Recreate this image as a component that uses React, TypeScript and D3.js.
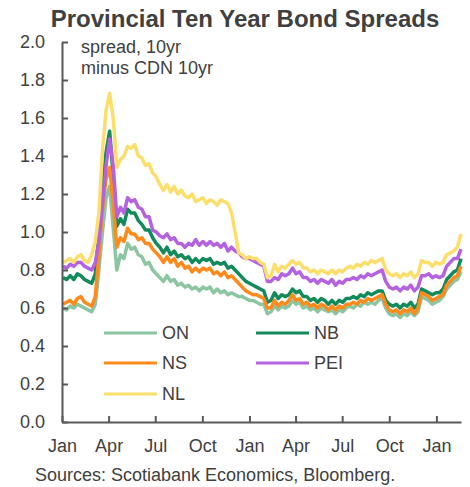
import React, { useEffect, useRef } from "react";
import * as d3 from "d3";

// Weekly observations (Fridays) from 2020-01-03 to 2022-02-18
const startDate = new Date(2020, 0, 3);
const endDate = new Date(2022, 1, 19);
const weekDates: Date[] = d3.timeFriday.range(startDate, endDate);

const seriesNames = ["ON", "NB", "NS", "PEI", "NL"];

const ON = [
  0.60, 0.59, 0.61, 0.60, 0.62, 0.61, 0.60, 0.59, 0.58, 0.62,
  0.80, 1.00, 1.18, 1.24, 1.02, 0.80, 0.88, 0.86, 0.94, 0.91,
  0.92, 0.88, 0.87, 0.83, 0.84, 0.80, 0.78, 0.76, 0.74, 0.77,
  0.74, 0.75, 0.72, 0.73, 0.71, 0.72, 0.70, 0.71, 0.69, 0.71,
  0.70, 0.71, 0.68, 0.70, 0.68, 0.69, 0.67, 0.68, 0.67, 0.66,
  0.66, 0.65, 0.64, 0.64, 0.63, 0.62, 0.62, 0.57, 0.58, 0.61,
  0.59, 0.61, 0.60, 0.61, 0.64, 0.62, 0.63, 0.60, 0.61, 0.59,
  0.60, 0.58, 0.60, 0.59, 0.58, 0.59, 0.57, 0.59, 0.58, 0.60,
  0.61, 0.60, 0.62, 0.61, 0.63, 0.62, 0.63, 0.62, 0.64, 0.65,
  0.60, 0.57, 0.56, 0.57, 0.55, 0.57, 0.56, 0.58, 0.56, 0.58,
  0.66, 0.65, 0.64, 0.62, 0.63, 0.64, 0.66, 0.70, 0.72, 0.74,
  0.75, 0.79,
];

const NB = [
  0.76, 0.75, 0.77, 0.75, 0.78, 0.77, 0.75, 0.74, 0.73, 0.78,
  0.98, 1.22, 1.42, 1.53, 1.30, 1.03, 1.07, 1.04, 1.12, 1.10,
  1.10, 1.06, 1.04, 1.01, 1.01, 0.97, 0.94, 0.92, 0.89, 0.92,
  0.88, 0.90, 0.87, 0.88, 0.86, 0.87, 0.84, 0.86, 0.84, 0.86,
  0.85, 0.86, 0.83, 0.84, 0.83, 0.84, 0.81, 0.82, 0.80, 0.78,
  0.76, 0.74, 0.73, 0.72, 0.71, 0.70, 0.69, 0.63, 0.64, 0.68,
  0.65, 0.67, 0.66, 0.67, 0.70, 0.68, 0.69, 0.66, 0.66, 0.64,
  0.65, 0.63, 0.65, 0.64, 0.62, 0.64, 0.62, 0.64, 0.63, 0.65,
  0.65, 0.66, 0.65, 0.67, 0.66, 0.68, 0.67, 0.68, 0.69, 0.69,
  0.64, 0.62, 0.61, 0.62, 0.60, 0.62, 0.61, 0.63, 0.60, 0.62,
  0.70, 0.69, 0.68, 0.67, 0.68, 0.68, 0.70, 0.75, 0.77, 0.79,
  0.80, 0.86,
];

const NS = [
  0.62, 0.63, 0.64, 0.62, 0.65, 0.66, 0.63, 0.62, 0.61, 0.66,
  0.88, 1.12, 1.28, 1.34, 1.15, 0.92, 0.97, 0.95, 1.02, 0.99,
  0.99, 0.96, 0.97, 0.94, 0.94, 0.91, 0.89, 0.87, 0.84, 0.87,
  0.84, 0.86, 0.82, 0.84, 0.81, 0.82, 0.79, 0.81, 0.79, 0.81,
  0.80, 0.81, 0.78, 0.79, 0.77, 0.79, 0.76, 0.77, 0.75, 0.73,
  0.71, 0.69, 0.68, 0.67, 0.67, 0.66, 0.65, 0.60, 0.60, 0.64,
  0.61, 0.63, 0.62, 0.64, 0.67, 0.64, 0.65, 0.62, 0.63, 0.61,
  0.62, 0.60, 0.62, 0.61, 0.59, 0.61, 0.59, 0.61, 0.60, 0.62,
  0.62, 0.63, 0.62, 0.64, 0.63, 0.65, 0.64, 0.65, 0.66, 0.67,
  0.62, 0.59, 0.58, 0.59, 0.57, 0.59, 0.58, 0.60, 0.57, 0.60,
  0.68, 0.67, 0.66, 0.64, 0.65, 0.66, 0.67, 0.72, 0.74, 0.76,
  0.77, 0.82,
];

const PEI = [
  0.82, 0.81, 0.83, 0.82, 0.84, 0.84, 0.82, 0.81, 0.80, 0.84,
  0.95, 1.15, 1.35, 1.49, 1.35, 1.08, 1.13, 1.10, 1.18, 1.16,
  1.17, 1.13, 1.12, 1.08, 1.08, 1.01, 1.00, 0.98, 0.97, 0.99,
  0.96, 0.97, 0.94, 0.94, 0.92, 0.94, 0.93, 0.96, 0.93, 0.95,
  0.93, 0.95, 0.93, 0.94, 0.92, 0.94, 0.90, 0.92, 0.90, 0.89,
  0.87, 0.86, 0.86, 0.85, 0.84, 0.83, 0.82, 0.74, 0.74, 0.76,
  0.75, 0.78, 0.77, 0.78, 0.81, 0.78, 0.79, 0.76, 0.76, 0.74,
  0.75, 0.73, 0.75, 0.74, 0.73, 0.75, 0.72, 0.74, 0.73, 0.75,
  0.75, 0.76, 0.75, 0.77, 0.76, 0.78, 0.77, 0.78, 0.79, 0.80,
  0.74, 0.71, 0.70, 0.71, 0.69, 0.71, 0.70, 0.72, 0.69, 0.71,
  0.77, 0.77, 0.78, 0.76, 0.77, 0.76, 0.77, 0.82, 0.84, 0.86,
  0.86, 0.91,
];

const NL = [
  0.84, 0.85, 0.86, 0.84, 0.87, 0.88, 0.85, 0.84, 0.88, 0.95,
  1.10, 1.43, 1.64, 1.73, 1.60, 1.34, 1.38, 1.40, 1.45, 1.44,
  1.46, 1.40, 1.39, 1.35, 1.36, 1.31, 1.29, 1.25, 1.22, 1.25,
  1.21, 1.24, 1.20, 1.22, 1.19, 1.18, 1.20, 1.16, 1.17, 1.18,
  1.15, 1.17, 1.16, 1.14, 1.17, 1.16, 1.15, 1.10, 1.00, 0.89,
  0.88, 0.86, 0.87, 0.86, 0.86, 0.84, 0.83, 0.76, 0.77, 0.83,
  0.79, 0.82, 0.81, 0.83, 0.85, 0.83, 0.84, 0.81, 0.81, 0.79,
  0.80, 0.78, 0.80, 0.79, 0.78, 0.80, 0.78, 0.80, 0.79, 0.81,
  0.82, 0.81, 0.83, 0.82, 0.84, 0.83, 0.85, 0.84, 0.85, 0.86,
  0.80, 0.78, 0.77, 0.78, 0.76, 0.78, 0.77, 0.79, 0.76, 0.78,
  0.85, 0.84, 0.84, 0.82, 0.84, 0.83, 0.84, 0.88, 0.89, 0.90,
  0.92, 0.99,
];

const seriesValues = [ON, NB, NS, PEI, NL];
const seriesColors = ["#8cc5a2", "#138a5c", "#ff8a1c", "#b462e0", "#fcde6b"];

const yTicks = [0, 0.2, 0.4, 0.6, 0.8, 1.0, 1.2, 1.4, 1.6, 1.8, 2.0];
const xTickDates = [
  new Date(2020, 0, 1), new Date(2020, 3, 1), new Date(2020, 6, 1), new Date(2020, 9, 1),
  new Date(2021, 0, 1), new Date(2021, 3, 1), new Date(2021, 6, 1), new Date(2021, 9, 1),
  new Date(2022, 0, 1),
];
const monthLabels = ["Jan", "Apr", "Jul", "Oct"];

const titleText = "Provincial Ten Year Bond Spreads";
const noteLines = ["spread, 10yr", "minus CDN 10yr"];
const sourceText = "Sources: Scotiabank Economics, Bloomberg.";

const W = 470;
const H = 487;
const FONT = "'Liberation Sans', Arial, Helvetica, sans-serif";
const TEXT = "#404040";
const AXIS = "#595959";

export default function App() {
  const xAxisRef = useRef<SVGGElement>(null);
  const yAxisRef = useRef<SVGGElement>(null);

  const x = d3.scaleTime().domain([new Date(2020, 0, 1), new Date(2022, 1, 18)]).range([62, 461]);
  const y = d3.scaleLinear().domain([0, 2]).range([422, 42]);

  useEffect(() => {
    document.body.style.margin = "0";
    if (yAxisRef.current) {
      const g = d3.select(yAxisRef.current);
      g.selectAll("*").remove();
      g.call(
        d3.axisLeft(y)
          .tickValues(yTicks)
          .tickFormat((d: any) => d3.format(".1f")(d))
          .tickSizeInner(-6)
          .tickSizeOuter(0)
          .tickPadding(17)
      );
      g.select(".domain").attr("stroke", AXIS).attr("stroke-width", 2);
      g.selectAll(".tick line").attr("stroke", AXIS).attr("stroke-width", 2);
      g.selectAll(".tick text").attr("fill", TEXT).style("font-size", "18px").style("font-family", FONT);
    }
    if (xAxisRef.current) {
      const g = d3.select(xAxisRef.current);
      g.selectAll("*").remove();
      g.call(
        d3.axisBottom(x)
          .tickValues(xTickDates)
          .tickFormat((d: any) => monthLabels[Math.floor((d as Date).getMonth() / 3)])
          .tickSizeInner(-6)
          .tickSizeOuter(0)
          .tickPadding(17)
      );
      g.select(".domain").attr("stroke", AXIS).attr("stroke-width", 2);
      g.selectAll(".tick line").attr("stroke", AXIS).attr("stroke-width", 2);
      g.selectAll(".tick text").attr("fill", TEXT).style("font-size", "18px").style("font-family", FONT);
    }
  });

  const line = d3
    .line<number>()
    .x((_, i) => x(weekDates[i]))
    .y((d) => y(d));

  const legendPos = [
    { lx: 104, ty: 333 },
    { lx: 256, ty: 333 },
    { lx: 104, ty: 363 },
    { lx: 256, ty: 363 },
    { lx: 104, ty: 394 },
  ];

  return (
    <svg
      width={W}
      height={H}
      style={{ position: "absolute", left: 0, top: 0, background: "#fff" }}
      fontFamily={FONT}
    >
      <rect x={0} y={0} width={W} height={H} fill="#fff" />
      <text x={245} y={27} textAnchor="middle" fontSize={24} fontWeight="bold" fill={TEXT}>
        {titleText}
      </text>
      {noteLines.map((t, i) => (
        <text key={t} x={81} y={53 + i * 21} fontSize={18} fill={TEXT}>
          {t}
        </text>
      ))}
      <g>
        {seriesValues.map((vals, i) => (
          <path
            key={seriesNames[i]}
            d={line(vals) || ""}
            fill="none"
            stroke={seriesColors[i]}
            strokeWidth={3.5}
            strokeLinejoin="round"
          />
        ))}
      </g>
      <g ref={yAxisRef} transform="translate(62,0)" />
      <g ref={xAxisRef} transform="translate(0,422)" />
      <g>
        {seriesNames.map((name, i) => (
          <g key={name}>
            <line
              x1={legendPos[i].lx}
              x2={legendPos[i].lx + 53}
              y1={legendPos[i].ty}
              y2={legendPos[i].ty}
              stroke={seriesColors[i]}
              strokeWidth={3}
            />
            <text x={legendPos[i].lx + 58} y={legendPos[i].ty} dy="0.36em" fontSize={18} fill={TEXT}>
              {name}
            </text>
          </g>
        ))}
      </g>
      <text x={35} y={481} fontSize={18} fill={TEXT}>
        {sourceText}
      </text>
    </svg>
  );
}
